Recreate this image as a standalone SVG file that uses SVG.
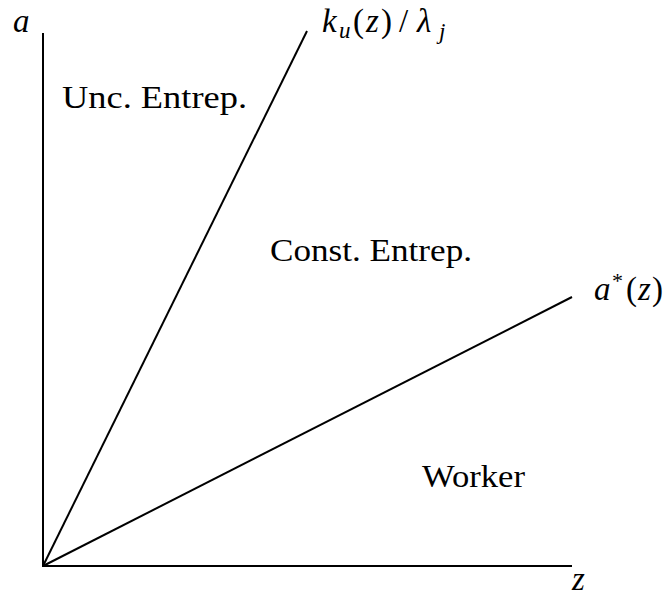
<svg xmlns="http://www.w3.org/2000/svg" width="664" height="604" viewBox="0 0 664 604">
<style>
.ax{stroke:#000;stroke-width:2;fill:none;stroke-linecap:butt}
.lbl{font-family:"Liberation Serif","DejaVu Serif",serif;font-size:31px;fill:#000}
.m{font-family:"Liberation Serif","DejaVu Serif",serif;font-size:33px;font-style:italic;fill:#000}
.up{font-style:normal}
.sub{font-size:23px}
</style>
<rect width="664" height="604" fill="#fff"/>
<g id="connectors">
<line class="ax" x1="43" y1="566" x2="43" y2="33"/>
<line class="ax" x1="42" y1="566" x2="572" y2="566"/>
<line class="ax" x1="43" y1="566" x2="307" y2="31"/>
<line class="ax" x1="43" y1="566" x2="572" y2="297"/>
</g>
<g id="axis-a"><text class="m" x="13" y="32">a</text></g>
<g id="axis-z"><text class="m" x="572" y="590">z</text></g>
<g id="label-ku"><text class="m" y="32"><tspan x="322">k</tspan><tspan class="sub" x="339" dy="6">u</tspan><tspan class="up" x="353" dy="-6">(</tspan><tspan x="366">z</tspan><tspan class="up" x="381">)</tspan><tspan class="up" x="399">/</tspan><tspan x="417">λ</tspan><tspan class="sub" x="439" dy="7">j</tspan></text></g>
<g id="label-astar"><text class="m" y="300"><tspan x="594">a</tspan><tspan class="up" font-size="22" x="612" dy="-12">*</tspan><tspan class="up" x="626" dy="12">(</tspan><tspan x="638">z</tspan><tspan class="up" x="652">)</tspan></text></g>
<g id="region-unc"><text class="lbl" x="62" y="108" textLength="185" lengthAdjust="spacingAndGlyphs">Unc. Entrep.</text></g>
<g id="region-const"><text class="lbl" x="270" y="261" textLength="202" lengthAdjust="spacingAndGlyphs">Const. Entrep.</text></g>
<g id="region-worker"><text class="lbl" x="422" y="487" textLength="103" lengthAdjust="spacingAndGlyphs">Worker</text></g>
</svg>
